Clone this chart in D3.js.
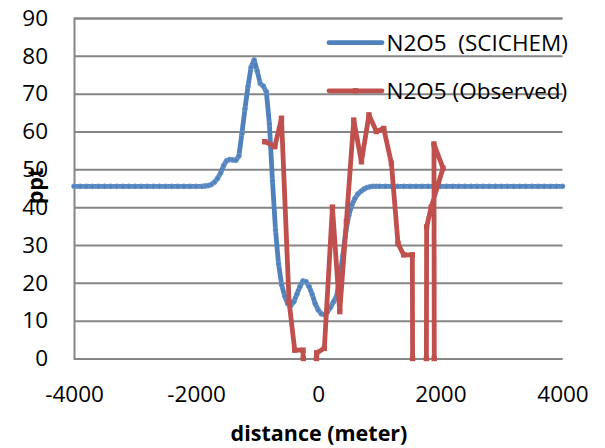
<!DOCTYPE html>
<html><head><meta charset="utf-8">
<script src="https://cdn.jsdelivr.net/npm/d3@7"></script>
<style>body{margin:0;background:#fff}svg{display:block}text{font-family:"Open Sans","Noto Sans",sans-serif;fill:#000}</style>
</head><body><svg id="c" width="605" height="448"></svg>
<script>
// ---- data ----
const xTicks = [-4000, -2000, 0, 2000, 4000];
const yTicks = [0, 10, 20, 30, 40, 50, 60, 70, 80, 90];
const seriesNames = ["N2O5  (SCICHEM)", "N2O5 (Observed)"];

const scichemX = [-4000,-3900,-3800,-3700,-3600,-3500,-3400,-3300,-3200,-3100,-3000,-2900,-2800,-2700,-2600,-2500,-2400,-2300,-2200,-2100,-2000,
  -1900,-1850,-1800,-1750,-1700,-1650,-1600,-1550,-1500,-1450,-1400,-1350,-1300,-1250,-1200,-1150,-1100,-1050,-1000,-950,-900,-850,-800,-750,-700,-650,-600,-550,-500,-450,-400,-350,-300,-250,-200,-150,-100,-50,0,50,100,150,200,250,300,350,400,450,500,550,600,650,700,750,800,850,900,950,1000,
  1100,1200,1300,1400,1500,1600,1700,1800,1900,2000,2100,2200,2300,2400,2500,2600,2700,2800,2900,3000,3100,3200,3300,3400,3500,3600,3700,3800,3900,4000];
const scichemY = [45.5,45.5,45.5,45.5,45.5,45.5,45.5,45.5,45.5,45.5,45.5,45.5,45.5,45.5,45.5,45.5,45.5,45.5,45.5,45.5,45.5,
  45.5,45.6,45.7,46.0,46.6,47.6,49.0,51.0,52.3,52.6,52.5,52.4,53.5,59.5,66.0,72.0,77.0,78.9,76.0,72.7,72.0,70.5,62.0,47.0,34.0,25.0,19.5,16.5,14.5,14.0,15.0,17.0,19.0,20.5,20.3,19.0,17.0,14.5,12.8,11.8,11.6,12.3,13.5,15.0,16.5,21.0,27.0,33.5,37.8,40.6,42.3,43.5,44.2,44.8,45.2,45.4,45.5,45.5,45.5,
  45.5,45.5,45.5,45.5,45.5,45.5,45.5,45.5,45.5,45.5,45.5,45.5,45.5,45.5,45.5,45.5,45.5,45.5,45.5,45.5,45.5,45.5,45.5,45.5,45.5,45.5,45.5,45.5,45.5,45.5];

const observedX = [-876,-712,-602,-478,-385,-250,-245,-130,-30,-25,100,232,352,461,581,707,831,952,1072,1198,1306,1399,1541,1545,1650,1771,1775,1850,2043,1895,1900];
const observedY = [57.3,56.0,63.5,15.0,2.2,2.2,0,null,0,1.5,2.7,40.0,12.4,36.2,63.0,52.0,64.4,60.0,60.8,51.6,30.4,27.4,27.4,0,null,0,34.8,40.0,50.3,56.7,0];

const colors = ["#4F81BD", "#C0504D"];

// ---- chart ----
const svg = d3.select("#c");
const x = d3.scaleLinear().domain([-4000, 4000]).range([74, 562.5]);
const y = d3.scaleLinear().domain([0, 90]).range([358.5, 18]);
const fmt = d => String(d);

// gridlines + y axis
const yAxis = svg.append("g").attr("transform", "translate(74,0)")
  .call(d3.axisLeft(y).tickValues(yTicks).tickFormat(fmt).tickSize(-(562.5 - 74)).tickPadding(26));
yAxis.select(".domain").attr("stroke", "#868686").attr("stroke-width", 2);
yAxis.selectAll(".tick line").attr("stroke", "#868686").attr("stroke-width", 2);
yAxis.selectAll(".tick text").attr("font-size", 22.5).attr("fill", "#000").attr("font-family", "'Open Sans',sans-serif");

const xAxis = svg.append("g").attr("transform", "translate(0,358.5)")
  .call(d3.axisBottom(x).tickValues(xTicks).tickFormat(fmt).tickSize(0));
xAxis.select(".domain").remove();
xAxis.selectAll(".tick text").attr("font-size", 22.5).attr("fill", "#000")
  .attr("font-family", "'Open Sans',sans-serif").attr("dy", null).attr("y", 43);

// axis titles
svg.append("text").attr("x", 319).attr("y", 441).attr("text-anchor", "middle")
  .attr("font-size", 21.5).attr("font-weight", "bold").text("distance (meter)");
svg.append("text").attr("transform", "translate(43,186) rotate(-90)").attr("text-anchor", "middle")
  .attr("font-size", 21.5).attr("font-weight", "bold").text("ppt");

// series
const blue = scichemX.map((d, i) => [d, scichemY[i]]);
const red = observedX.map((d, i) => [d, observedY[i]]);

const line = d3.line().defined(d => d[1] !== null).x(d => x(d[0])).y(d => y(d[1]));

svg.append("path").datum(blue).attr("d", line).attr("fill", "none")
  .attr("stroke", colors[0]).attr("stroke-width", 4.8).attr("stroke-linejoin", "round");
svg.append("g").selectAll("circle").data(blue).join("circle")
  .attr("cx", d => x(d[0])).attr("cy", d => y(d[1])).attr("r", 2.5)
  .attr("fill", colors[0]).attr("stroke", "#7fa2d0").attr("stroke-width", 0.6);

svg.append("path").datum(red).attr("d", line).attr("fill", "none")
  .attr("stroke", colors[1]).attr("stroke-width", 4.8).attr("stroke-linejoin", "round");
svg.append("g").selectAll("rect").data(red.filter(d => d[1] !== null)).join("rect")
  .attr("x", d => x(d[0]) - 2.7).attr("y", d => y(d[1]) - 2.7).attr("width", 5.4).attr("height", 5.4)
  .attr("fill", colors[1]);

// legend
const legendY = [42.7, 90.8];
seriesNames.forEach((name, i) => {
  svg.append("line").attr("x1", 329).attr("x2", 382).attr("y1", legendY[i]).attr("y2", legendY[i])
    .attr("stroke", colors[i]).attr("stroke-width", 4.8).attr("stroke-linecap", "round");
  if (i === 1) svg.append("rect").attr("x", 352.8).attr("y", legendY[i] - 2.7).attr("width", 5.4).attr("height", 5.4).attr("fill", colors[i]);
  svg.append("text").attr("x", 386.5).attr("y", legendY[i] + 8)
    .attr("font-size", 22.5).attr("xml:space", "preserve").style("white-space", "pre").text(name);
});
</script></body></html>
